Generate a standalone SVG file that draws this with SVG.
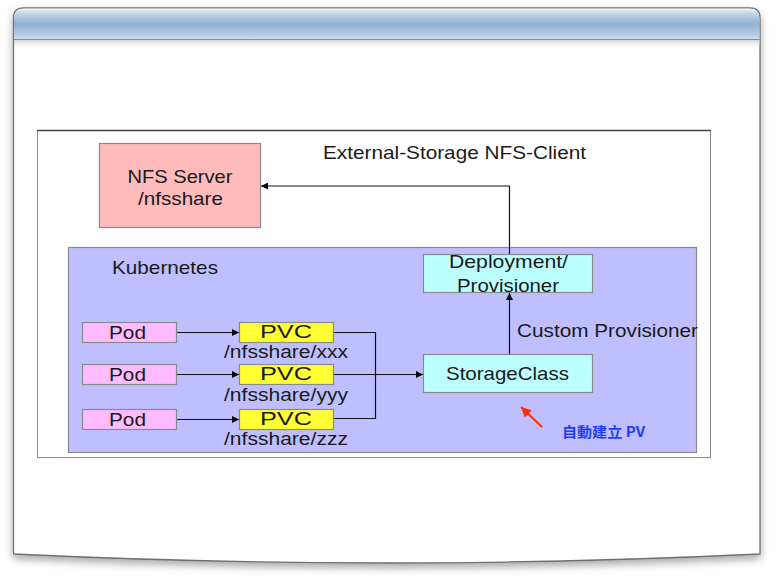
<svg xmlns="http://www.w3.org/2000/svg" width="779" height="576" viewBox="0 0 779 576">
<defs>
<linearGradient id="hdr" x1="0" y1="0" x2="0" y2="1">
<stop offset="0" stop-color="#eef4fb"/>
<stop offset="0.15" stop-color="#c6d7ea"/>
<stop offset="0.5" stop-color="#8eb0d2"/>
<stop offset="0.85" stop-color="#b6cce4"/>
<stop offset="1" stop-color="#d6e3f1"/>
</linearGradient>
<linearGradient id="hsh" x1="0" y1="0" x2="0" y2="1">
<stop offset="0" stop-color="#d8d8d8"/>
<stop offset="1" stop-color="#ffffff" stop-opacity="0"/>
</linearGradient>
<filter id="sh" x="-5%" y="-5%" width="110%" height="112%">
<feGaussianBlur in="SourceAlpha" stdDeviation="4"/>
<feOffset dx="0" dy="4" result="b"/>
<feComponentTransfer><feFuncA type="linear" slope="0.35"/></feComponentTransfer>
<feMerge><feMergeNode/><feMergeNode in="SourceGraphic"/></feMerge>
</filter>
<marker id="ah" viewBox="0 0 10 10" refX="10" refY="5" markerWidth="10" markerHeight="7" markerUnits="userSpaceOnUse" orient="auto">
<path d="M0,0 L10,5 L0,10 z" fill="#000"/>
</marker>
<marker id="ahr" viewBox="0 0 10 10" refX="10" refY="5" markerWidth="12" markerHeight="10" markerUnits="userSpaceOnUse" orient="auto">
<path d="M0,0 L10,5 L0,10 z" fill="#ff2a00"/>
</marker>
</defs>
<style>
text { font-family: "Liberation Sans", Arial, Helvetica, sans-serif; font-size: 18.5px; fill: #1a1a1a; }
.sm { font-size: 17.5px; }
.box { stroke: #8a8a8a; stroke-width: 1.2; }
.c { text-anchor: middle; }
.ln { fill: none; stroke: #111; stroke-width: 1.2; }
</style>
<g id="frame">
<path d="M13.5,554 L13.5,18 Q13.5,8 23.5,8 L750,8 Q760,8 760,18 L760,554 Q386,572 13.5,554 z" fill="#ffffff" stroke="#6e6e6e" stroke-width="1.3" filter="url(#sh)"/>
<path d="M14,39.5 L14,18 Q14,8.5 23.5,8.5 L750,8.5 Q759.5,8.5 759.5,18 L759.5,39.5 z" fill="url(#hdr)"/>
<rect x="14" y="40" width="745.5" height="10" fill="url(#hsh)"/>
<line x1="14" y1="39.5" x2="759.5" y2="39.5" stroke="#7d8fa3" stroke-width="1"/>
</g>
<g id="outer">
<rect x="37.5" y="130.5" width="673" height="327" fill="#ffffff" stroke="#8c8c8c" stroke-width="1"/>
<line x1="37" y1="130.5" x2="711" y2="130.5" stroke="#444" stroke-width="1.5"/>
<text x="323" y="159" textLength="263" lengthAdjust="spacingAndGlyphs">External-Storage NFS-Client</text>
</g>
<g id="nfs-server">
<rect class="box" x="99.5" y="143.5" width="161" height="84" fill="#ffbbbb"/>
<text class="c" x="180" y="183" textLength="105" lengthAdjust="spacingAndGlyphs">NFS Server</text>
<text class="c" x="180.5" y="205" textLength="85" lengthAdjust="spacingAndGlyphs">/nfsshare</text>
</g>
<g id="kubernetes">
<rect class="box" x="68.5" y="247.5" width="628" height="205" fill="#bfbfff"/>
<text x="112" y="274" textLength="106" lengthAdjust="spacingAndGlyphs">Kubernetes</text>
</g>
<g id="deployment">
<rect class="box" x="423.5" y="254.5" width="169" height="38" fill="#bbffff"/>
<text class="c" x="508.5" y="268" textLength="119" lengthAdjust="spacingAndGlyphs">Deployment/</text>
<text class="c" x="508" y="292" textLength="102" lengthAdjust="spacingAndGlyphs">Provisioner</text>
</g>
<g id="storageclass">
<rect class="box" x="423.5" y="354.5" width="169" height="38" fill="#bbffff"/>
<text class="c" x="507.5" y="380" textLength="123" lengthAdjust="spacingAndGlyphs">StorageClass</text>
</g>
<g id="pod1">
<rect class="box" x="82.5" y="322.5" width="94" height="20" fill="#ffbbff"/>
<text class="c" x="127.5" y="338.5" textLength="37" lengthAdjust="spacingAndGlyphs">Pod</text>
</g>
<g id="pod2">
<rect class="box" x="82.5" y="364.5" width="94" height="20" fill="#ffbbff"/>
<text class="c" x="127.5" y="380.5" textLength="37" lengthAdjust="spacingAndGlyphs">Pod</text>
</g>
<g id="pod3">
<rect class="box" x="82.5" y="409.5" width="94" height="20" fill="#ffbbff"/>
<text class="c" x="127.5" y="425.5" textLength="37" lengthAdjust="spacingAndGlyphs">Pod</text>
</g>
<g id="pvc1">
<rect class="box" x="239.5" y="322.5" width="94" height="20" fill="#ffff33"/>
<text class="c sm" x="286" y="338" textLength="52" lengthAdjust="spacingAndGlyphs">PVC</text>
<text class="sm" x="224" y="358" textLength="124" lengthAdjust="spacingAndGlyphs">/nfsshare/xxx</text>
</g>
<g id="pvc2">
<rect class="box" x="239.5" y="364.5" width="94" height="20" fill="#ffff33"/>
<text class="c sm" x="286" y="380" textLength="52" lengthAdjust="spacingAndGlyphs">PVC</text>
<text class="sm" x="224" y="400.5" textLength="124" lengthAdjust="spacingAndGlyphs">/nfsshare/yyy</text>
</g>
<g id="pvc3">
<rect class="box" x="239.5" y="409.5" width="94" height="20" fill="#ffff33"/>
<text class="c sm" x="286" y="425" textLength="52" lengthAdjust="spacingAndGlyphs">PVC</text>
<text class="sm" x="224" y="444.5" textLength="124" lengthAdjust="spacingAndGlyphs">/nfsshare/zzz</text>
</g>
<g id="connectors">
<line class="ln" x1="177" y1="332.5" x2="239" y2="332.5" marker-end="url(#ah)"/>
<line class="ln" x1="177" y1="374.5" x2="239" y2="374.5" marker-end="url(#ah)"/>
<line class="ln" x1="177" y1="419.5" x2="239" y2="419.5" marker-end="url(#ah)"/>
<polyline class="ln" points="334,332.5 375.5,332.5 375.5,418.5 334,418.5"/>
<line class="ln" x1="334" y1="374.5" x2="423" y2="374.5" marker-end="url(#ah)"/>
<line class="ln" x1="509.5" y1="354" x2="509.5" y2="293" marker-end="url(#ah)"/>
<polyline class="ln" points="509.5,254 509.5,186 261,186" marker-end="url(#ah)"/>
<line x1="542" y1="427" x2="521" y2="407" stroke="#ff2a00" stroke-width="2" marker-end="url(#ahr)"/>
<text x="517" y="337" textLength="181" lengthAdjust="spacingAndGlyphs">Custom Provisioner</text>
<text x="562" y="437" style="font-family:'Noto Sans CJK TC','Liberation Sans',sans-serif;font-size:14px;font-weight:bold;fill:#1a3cff" textLength="83" lengthAdjust="spacingAndGlyphs">自動建立 PV</text>
</g>
</svg>
